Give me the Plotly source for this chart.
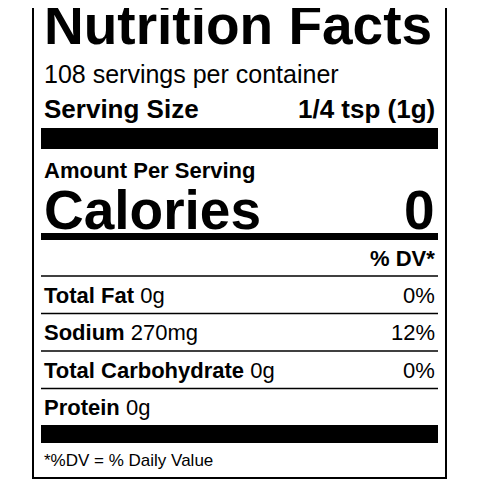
import plotly.graph_objects as go

nutrients = ["Total Fat", "Sodium", "Total Carbohydrate", "Protein"]
amounts = ["0g", "270mg", "0g", "0g"]
dv = ["0%", "12%", "0%", ""]
servings_text = "108 servings per container"
serving_size = "1/4 tsp (1g)"
calories = "0"

F = "Liberation Sans, Arial, sans-serif"
fig = go.Figure()
shapes = []
ann = []
L, R = 33, 446
def line(y, w):
    shapes.append(dict(type="line", x0=L+8, x1=R-8, y0=y, y1=y, line=dict(color="black", width=w)))
shapes.append(dict(type="rect", x0=L, x1=R, y0=-5, y1=478, line=dict(color="black", width=2)))
def text(x, y, s, size, anchor="left", bold=False):
    ann.append(dict(x=x, y=y, text=("<b>%s</b>" % s) if bold else s, showarrow=False,
                    xanchor=anchor, yanchor="middle", font=dict(family=F, size=size, color="black")))
text(42, 25, "Nutrition Facts", 55, bold=True)
text(42, 74, servings_text, 25)
text(42, 109, "Serving Size", 26, bold=True)
text(437, 109, serving_size, 26, anchor="right", bold=True)
shapes.append(dict(type="rect", x0=L+8, x1=R-8, y0=128, y1=149, fillcolor="black", line=dict(width=0)))
text(42, 170, "Amount Per Serving", 22, bold=True)
text(42, 210, "Calories", 55, bold=True)
text(437, 210, calories, 55, anchor="right", bold=True)
shapes.append(dict(type="rect", x0=L+8, x1=R-8, y0=233, y1=240, fillcolor="black", line=dict(width=0)))
text(437, 258, "% DV*", 22, anchor="right", bold=True)
y0 = 276
for i, (n, a, d) in enumerate(zip(nutrients, amounts, dv)):
    line(y0 + 37.5 * i, 1.5)
    yc = y0 + 37.5 * i + 19
    ann.append(dict(x=42, y=yc, text="<b>%s</b> %s" % (n, a), showarrow=False, xanchor="left",
                    yanchor="middle", font=dict(family=F, size=22, color="black")))
    if d:
        text(437, yc, d, 22, anchor="right")
shapes.append(dict(type="rect", x0=L+8, x1=R-8, y0=425, y1=443, fillcolor="black", line=dict(width=0)))
text(42, 460, "*%DV = % Daily Value", 17)

fig.update_layout(width=480, height=480, margin=dict(l=0, r=0, t=0, b=0),
                  paper_bgcolor="white", plot_bgcolor="white", shapes=shapes, annotations=ann,
                  xaxis=dict(range=[8, 488], visible=False, fixedrange=True),
                  yaxis=dict(range=[488, 8], visible=False, fixedrange=True), showlegend=False)
fig.write_html("out.html", config={"displayModeBar": False})
